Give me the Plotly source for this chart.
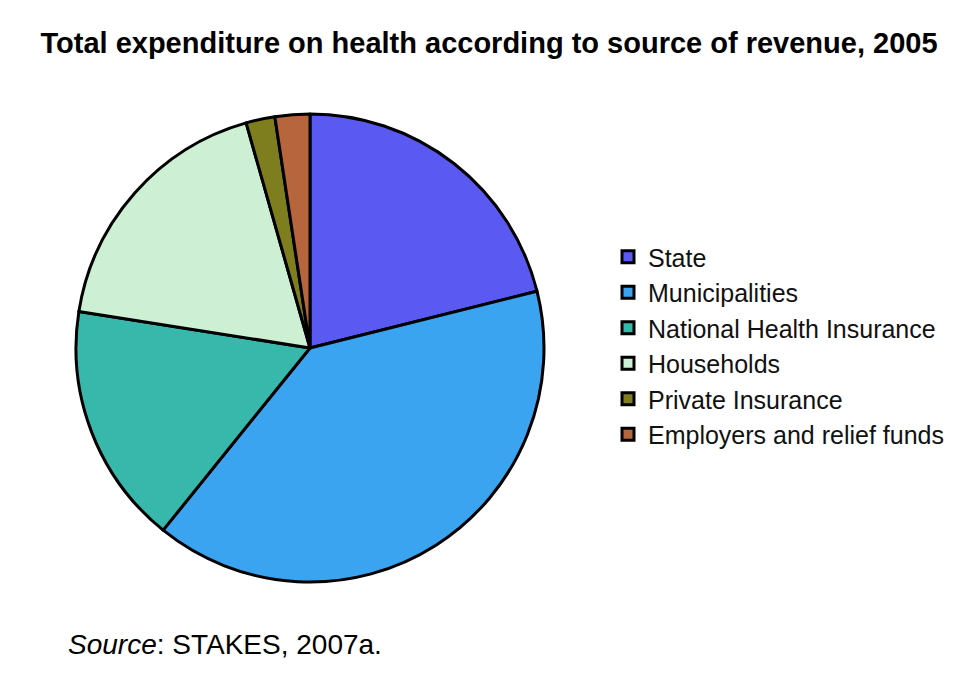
import plotly.graph_objects as go

labels = ["State", "Municipalities", "National Health Insurance", "Households",
          "Private Insurance", "Employers and relief funds"]
values = [21.1, 39.7, 16.7, 18.1, 2.0, 2.4]
colors = ["#5a5af2", "#3aa4f0", "#38b8ab", "#cdefd3", "#7e7e1f", "#b6653d"]

W, H = 963, 680
cx, cy, r = 310, 348, 234

fig = go.Figure(go.Pie(
    labels=labels, values=values, sort=False, direction="clockwise", rotation=0,
    marker=dict(colors=colors, line=dict(color="black", width=3)),
    textinfo="none", hoverinfo="label+percent",
    domain=dict(x=[(cx - r) / W, (cx + r) / W], y=[(H - cy - r) / H, (H - cy + r) / H]),
))

fig.update_layout(
    width=W, height=H,
    margin=dict(l=0, r=0, t=0, b=0),
    paper_bgcolor="white", plot_bgcolor="white",
    font=dict(family="Liberation Sans, Arial, sans-serif", color="black"),
    title=dict(text="<b>Total expenditure on health according to source of revenue, 2005</b>",
               x=489 / W, xanchor="center", y=1 - 43 / H, yanchor="middle",
               font=dict(size=29, color="black")),
    legend=dict(x=608 / W, xanchor="left", y=1 - 234 / H, yanchor="top",
                font=dict(size=25, color="#111"), tracegroupgap=0,
                itemwidth=30),
    annotations=[dict(text="<i>Source</i>: STAKES, 2007a.", x=66 / W, xanchor="left",
                      y=1 - 644 / H, yanchor="middle", xref="paper", yref="paper",
                      showarrow=False, font=dict(size=28, color="black"))],
)

fig.write_html("out.html")
